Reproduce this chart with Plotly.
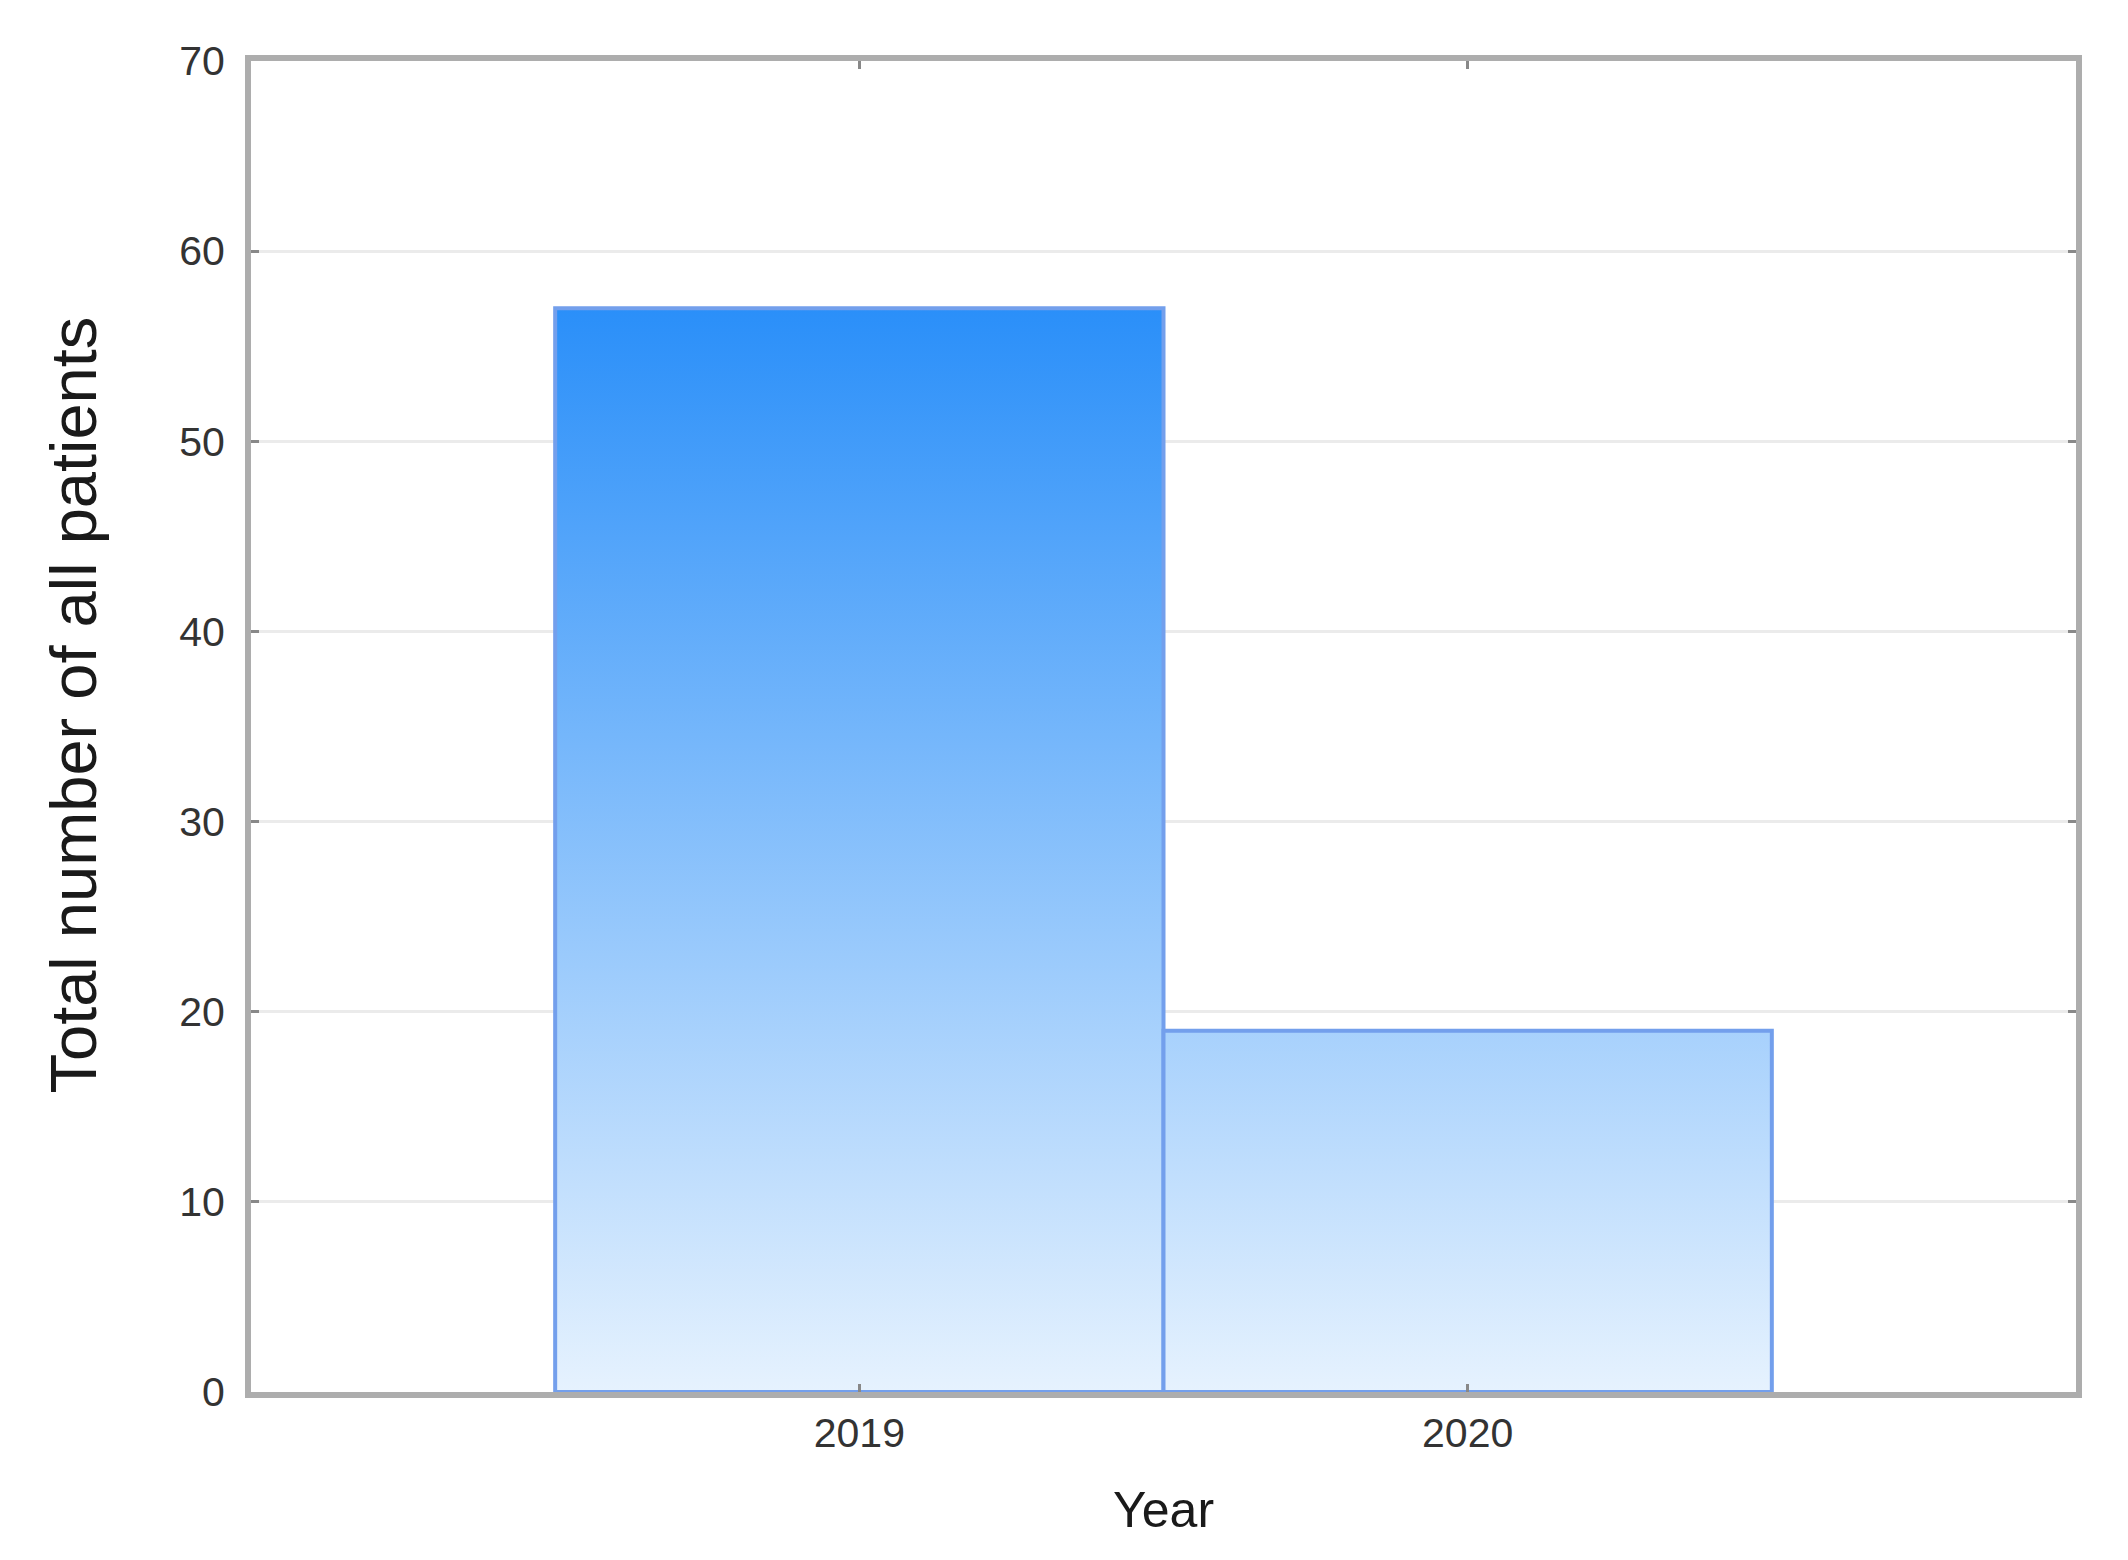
import plotly.graph_objects as go

# Data
years = ["2019", "2020"]
patients = [57, 19]
y_tickvals = [0, 10, 20, 30, 40, 50, 60, 70]
x_title = "Year"
y_title = "Total number of all patients"

positions = list(range(len(years)))

fig = go.Figure()

# Gradient-filled bodies of the bars (shared vertical gradient from 0 up to the max value),
# each with its own outline so the shared edge between bars is visible
top_val = max(patients)
for pos, val in zip(positions, patients):
    xs = [pos - 0.5, pos + 0.5, pos + 0.5, pos - 0.5, pos - 0.5]
    ys = [0, 0, val, val, 0]
    fig.add_trace(go.Scatter(
        x=xs, y=ys, mode="lines", fill="toself",
        line=dict(width=4, color="#739fec"),
        fillgradient=dict(type="vertical",
                          colorscale=[[0, "#e6f2fe"], [1, "#2a8ff9"]],
                          start=0, stop=top_val),
        hoverinfo="skip", showlegend=False,
    ))

# Bars (transparent, for hover) on top
fig.add_trace(go.Bar(
    x=positions, y=patients, width=1.0,
    marker=dict(color="rgba(0,0,0,0)", line=dict(width=0)),
    showlegend=False,
    hovertemplate="%{customdata}: %{y}<extra></extra>",
    customdata=years,
))

font_family = "Liberation Sans, Arial, sans-serif"
axis_common = dict(
    showline=True, mirror="allticks", linecolor="#adadad", linewidth=6,
    ticks="inside", ticklen=8, tickwidth=3, tickcolor="#888888",
    tickfont=dict(family=font_family, size=41, color="#333333"),
    zeroline=False,
)

fig.update_layout(
    width=2128, height=1560,
    margin=dict(l=243, r=60, t=53, b=176),
    paper_bgcolor="white", plot_bgcolor="white",
    bargap=0,
    xaxis=dict(
        **axis_common,
        range=[-1, 2], tickvals=positions, ticktext=years,
        showgrid=False,
        ticklabelstandoff=0,
    ),
    yaxis=dict(
        **axis_common,
        range=[0, 70], tickvals=y_tickvals,
        showgrid=True, gridcolor="#ebebeb", gridwidth=3,
        ticklabelstandoff=12,
    ),
    annotations=[
        dict(text=x_title, xref="paper", yref="paper", x=0.5, y=0,
             xanchor="center", yanchor="middle", yshift=-118, showarrow=False,
             font=dict(family=font_family, size=50, color="#1a1a1a")),
        dict(text=y_title, xref="paper", yref="paper", x=0, y=0.5,
             xanchor="center", yanchor="middle", xshift=-178, yshift=21,
             textangle=-90, showarrow=False,
             font=dict(family=font_family, size=65, color="#1a1a1a")),
    ],
)

fig.write_html("out.html")
